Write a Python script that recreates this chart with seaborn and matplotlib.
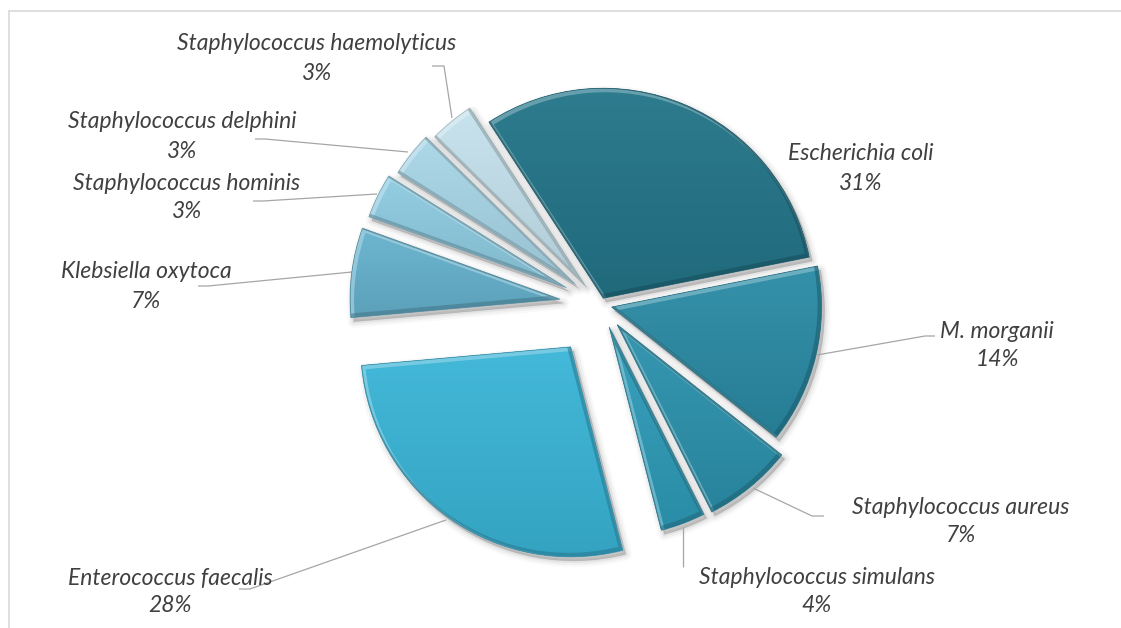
import numpy as np
import matplotlib
matplotlib.use("Agg")
import matplotlib.pyplot as plt
import matplotlib.patches as mpatches
from matplotlib.colors import to_rgb
import seaborn as sns

# ---------------- data ----------------
species = ["Escherichia coli", "M. morganii", "Staphylococcus aureus",
           "Staphylococcus simulans", "Enterococcus faecalis", "Klebsiella oxytoca",
           "Staphylococcus hominis", "Staphylococcus delphini",
           "Staphylococcus haemolyticus"]
counts = [9, 4, 2, 1, 8, 2, 1, 1, 1]
pct_labels = ["31%", "14%", "7%", "4%", "28%", "7%", "3%", "3%", "3%"]
slice_colors = ["#237589", "#2a8ba5", "#2c92ad", "#2f9cb9", "#3ab5d7",
                "#66b2ce", "#8ecbe1", "#a8d6e7", "#c5e2ed"]

# ---------------- layout (pixels, image y measured from top) ----------------
W, H = 1121, 628
CX, CY, R = 600.7, 304.4, 210
START = 123
explode_px = [6.7, 11.2, 26, 24, 52, 41, 38, 32, 26]
# (x centre of text, y of name line, y of percent line)
label_pos = [(861, 154, 183), (997, 331, 359), (961, 507, 535), (817, 578, 606),
             (170, 578, 606), (146, 272, 301), (187, 184, 212), (182, 122, 151),
             (317, 44, 73)]
leaders = [None,
           [(817, 355), (925, 336), (935, 336)],
           [(753, 488), (812, 516), (824, 516)],
           [(683, 527), (683, 567)],
           [(446, 520), (250, 589), (239, 589)],
           [(352, 272), (208, 286), (198, 286)],
           [(377, 194), (263, 201), (253, 201)],
           [(408, 152), (265, 139), (255, 139)],
           [(452, 118), (444, 66), (432, 66)]]

sns.set_style("white")
plt.rcParams["font.family"] = ["Lato", "DejaVu Sans"]


def Y(y):
    return H - y


def mix(c, other, t):
    c = np.array(to_rgb(c))
    o = np.array(to_rgb(other))
    return tuple(c * (1 - t) + o * t)


fig = plt.figure(figsize=(W / 100, H / 100), dpi=100)
ax = fig.add_axes([0, 0, 1, 1])

wedges, _ = ax.pie(counts, startangle=START, counterclock=False, radius=R,
                   center=(CX, Y(CY)), explode=explode_px, colors=slice_colors,
                   wedgeprops=dict(linewidth=0), frame=False)

for w, c in zip(wedges, slice_colors):
    w.set_zorder(3)
    cen, th1, th2 = w.center, w.theta1, w.theta2
    # soft drop shadow
    for lw, a in [(9, 0.025), (6, 0.035), (3, 0.05), (0.5, 0.08)]:
        sh = mpatches.Wedge((cen[0] + 3, cen[1] - 4), R, th1, th2,
                            facecolor="black", edgecolor="black", linewidth=lw,
                            alpha=a, zorder=1, joinstyle="round")
        ax.add_patch(sh)
    # subtle vertical gradient fill clipped to the wedge
    verts = w.get_path().vertices
    x0, x1 = verts[:, 0].min(), verts[:, 0].max()
    y0, y1 = verts[:, 1].min(), verts[:, 1].max()
    top, bot = np.array(mix(c, "white", 0.05)), np.array(mix(c, "black", 0.10))
    t = np.linspace(0, 1, 256)[:, None, None]
    img = top[None, None, :] * (1 - t) + bot[None, None, :] * t
    im = ax.imshow(img, extent=(x0, x1, y0, y1), origin="upper", aspect="auto",
                   zorder=3.5, interpolation="bilinear")
    im.set_clip_path(w)
    # emboss-like bevel: light band on upper/left edges, dark band on lower/right
    for dx, dy, col, a in [(1.8, -1.8, mix(c, "white", 0.45), 0.65),
                           (-1.8, 1.8, mix(c, "black", 0.35), 0.55)]:
        b = mpatches.Wedge((cen[0] + dx, cen[1] + dy), R, th1, th2, fill=False,
                           edgecolor=col, linewidth=3.2, alpha=a, zorder=4)
        ax.add_patch(b)
        b.set_clip_path(w)
    ol = mpatches.Wedge(cen, R, th1, th2, fill=False,
                        edgecolor=mix(c, "black", 0.30), linewidth=0.6,
                        alpha=0.6, zorder=5)
    ax.add_patch(ol)

text_kw = dict(ha="center", va="center", fontsize=16.5, style="italic",
               color="#404040", zorder=6)
for name, pct, (x, yn, yp) in zip(species, pct_labels, label_pos):
    ax.text(x, Y(yn), name, **text_kw)
    ax.text(x, Y(yp), pct, **text_kw)

for pts in leaders:
    if pts is None:
        continue
    xs = [p[0] for p in pts]
    ys = [Y(p[1]) for p in pts]
    ax.plot(xs, ys, color="#a6a6a6", linewidth=0.9, zorder=2,
            solid_capstyle="butt")

# chart-area border
ax.plot([9, 9], [Y(11), Y(H + 5)], color="#d9d9d9", linewidth=1.2, zorder=0)
ax.plot([9, W + 5], [Y(11), Y(11)], color="#d9d9d9", linewidth=1.2, zorder=0)

ax.set_xlim(0, W)
ax.set_ylim(0, H)
ax.set_aspect("auto")
ax.axis("off")
fig.savefig("out.png", dpi=100, facecolor="white")
